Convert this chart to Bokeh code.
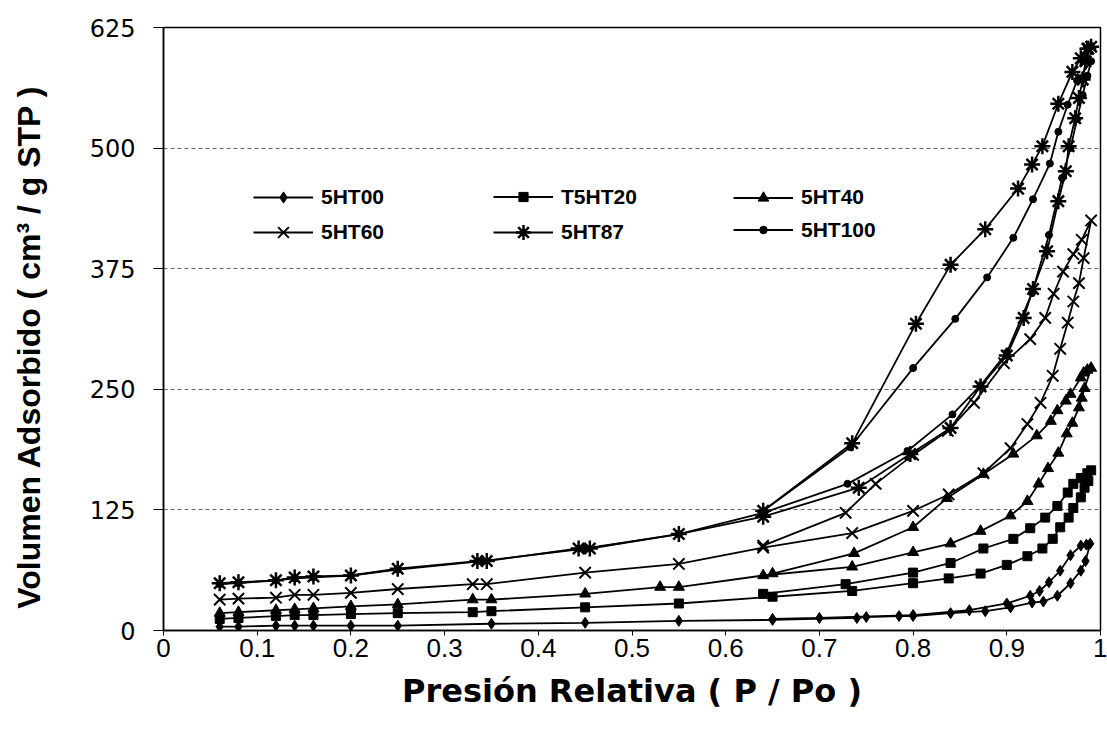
from bokeh.plotting import figure
from bokeh.models import Legend, LegendItem, Range1d, FixedTicker, NumeralTickFormatter
from bokeh.embed import file_html
from bokeh.resources import INLINE

x_ticks = [0, 0.1, 0.2, 0.3, 0.4, 0.5, 0.6, 0.7, 0.8, 0.9, 1.0]
y_ticks = [0, 125, 250, 375, 500, 625]

# 5HT00 (adsorption then desorption)
s00_x = [0.06, 0.08, 0.12, 0.14, 0.16, 0.20, 0.25, 0.35, 0.45, 0.55, 0.65, 0.74, 0.75, 0.785, 0.80,
         0.84, 0.877, 0.904, 0.927, 0.939, 0.954, 0.968, 0.979, 0.984, 0.989,
         0.985, 0.979, 0.968, 0.957, 0.945, 0.935, 0.925, 0.90, 0.86, 0.80, 0.70, 0.65]
s00_y = [4, 4, 5, 5, 5, 5, 5, 7, 8, 10, 11, 13, 14, 15, 15,
         18, 20, 24, 29, 30, 36, 49, 62, 72, 90,
         89, 88, 78, 62, 50, 41, 36, 28, 21, 16, 13, 12]

# T5HT20
s20_x = [0.06, 0.08, 0.12, 0.14, 0.16, 0.20, 0.25, 0.33, 0.35, 0.45, 0.55, 0.65, 0.735, 0.80, 0.838,
         0.872, 0.90, 0.922, 0.938, 0.949, 0.957, 0.966, 0.971, 0.979, 0.983, 0.987, 0.99,
         0.986, 0.979, 0.971, 0.965, 0.954, 0.941, 0.925, 0.907, 0.875, 0.84, 0.80, 0.728, 0.64]
s20_y = [12, 13, 15, 16, 16, 17, 18, 19, 20, 24, 28, 35, 41, 49, 54,
         59, 68, 77, 85, 95, 107, 117, 127, 138, 148, 155, 166,
         163, 158, 152, 143, 129, 117, 106, 95, 85, 70, 60, 48, 38]

# 5HT40
s40_x = [0.06, 0.08, 0.12, 0.14, 0.16, 0.20, 0.25, 0.33, 0.35, 0.45, 0.53, 0.55, 0.64, 0.735, 0.80,
         0.84, 0.872, 0.904, 0.922, 0.934, 0.944, 0.955, 0.964, 0.97, 0.977, 0.98, 0.983, 0.99,
         0.986, 0.982, 0.979, 0.968, 0.963, 0.954, 0.947, 0.932, 0.907, 0.875, 0.836, 0.80, 0.737, 0.65]
s40_y = [18, 19, 21, 22, 23, 25, 27, 32, 32, 38, 45, 45, 57, 66, 81,
         90, 103, 119, 134, 152, 168, 184, 204, 215, 231, 241, 251, 272,
         270, 267, 262, 245, 238, 228, 217, 202, 183, 162, 137, 107, 80, 59]

# 5HT60
s60_x = [0.06, 0.08, 0.12, 0.14, 0.16, 0.20, 0.25, 0.33, 0.345, 0.45, 0.55, 0.64, 0.735, 0.80, 0.838,
         0.875, 0.904, 0.922, 0.936, 0.949, 0.957, 0.965, 0.971, 0.977, 0.982, 0.99,
         0.98, 0.971, 0.96, 0.95, 0.941, 0.925, 0.897, 0.865, 0.837, 0.80, 0.76, 0.728, 0.64]
s60_y = [32, 33, 34, 37, 37, 39, 43, 48, 48, 60, 69, 86, 101, 124, 141,
         163, 189, 214, 236, 264, 292, 319, 341, 360, 386, 425,
         405, 390, 372, 349, 324, 302, 277, 236, 207, 182, 152, 122, 88]

# 5HT87
s87_x = [0.06, 0.08, 0.12, 0.14, 0.16, 0.20, 0.25, 0.335, 0.345, 0.443, 0.455, 0.55, 0.64, 0.742, 0.797,
         0.84, 0.872, 0.90, 0.918, 0.928, 0.943, 0.955, 0.963, 0.966, 0.973, 0.977, 0.981, 0.984, 0.987, 0.99,
         0.986, 0.979, 0.97, 0.955, 0.938, 0.927, 0.912, 0.877, 0.84, 0.803, 0.735, 0.64]
s87_y = [49, 50, 52, 55, 56, 57, 64, 72, 72, 85, 85, 100, 118, 148, 183,
         210, 253, 285, 324, 354, 393, 445, 476, 502, 531, 552, 571, 590, 603, 605,
         603, 593, 579, 546, 502, 483, 458, 416, 379, 318, 194, 124]

# 5HT100
s100_x = [0.06, 0.08, 0.12, 0.14, 0.16, 0.20, 0.25, 0.34, 0.45, 0.55, 0.64, 0.73, 0.794, 0.842,
          0.872, 0.90, 0.927, 0.945, 0.959, 0.968, 0.975, 0.981, 0.986, 0.99,
          0.975, 0.965, 0.955, 0.946, 0.928, 0.907, 0.879, 0.845, 0.80, 0.733, 0.64]
s100_y = [48, 49, 52, 54, 55, 57, 63, 72, 85, 100, 122, 152, 186, 224,
          254, 288, 350, 410, 469, 500, 530, 555, 575, 590,
          570, 545, 517, 484, 447, 407, 366, 323, 272, 190, 124]

labels = ["5HT00", "T5HT20", "5HT40", "5HT60", "5HT87", "5HT100"]
xs = [s00_x, s20_x, s40_x, s60_x, s87_x, s100_x]
ys = [s00_y, s20_y, s40_y, s60_y, s87_y, s100_y]
markers = ["diamond", "square", "triangle", "x", "asterisk", "circle"]
sizes = [11, 9, 11, 16, 16, 7]
mlw = [1, 1, 1, 2, 2.5, 1]

p = figure(width=1107, height=747, x_range=Range1d(0, 1), y_range=Range1d(0, 625),
           output_backend="svg", toolbar_location=None,
           min_border_left=163, min_border_right=7, min_border_top=27, min_border_bottom=117)

p.background_fill_color = "white"
p.border_fill_color = "white"
p.outline_line_color = "black"
p.outline_line_width = 1.5

p.xgrid.visible = False
p.ygrid.ticker = FixedTicker(ticks=y_ticks[1:-1])
p.ygrid.grid_line_color = "#666666"
p.ygrid.grid_line_dash = "4 3"
p.ygrid.grid_line_width = 1

p.xaxis.ticker = FixedTicker(ticks=x_ticks)
p.xaxis.formatter = NumeralTickFormatter(format="0.[0]")
p.xaxis.major_label_text_font = "Liberation Sans"
p.xaxis.major_label_text_font_size = "26px"
p.xaxis.major_label_text_color = "black"
p.xaxis.major_tick_out = 5
p.xaxis.major_tick_in = 0
p.xaxis.minor_tick_out = 0
p.xaxis.minor_tick_in = 0
p.xaxis.major_label_standoff = 3
p.xaxis.axis_line_color = "black"
p.xaxis.axis_line_width = 1.5
p.xaxis.axis_label = "Presión Relativa ( P / Po )"
p.xaxis.axis_label_text_font = "DejaVu Sans"
p.xaxis.axis_label_text_font_style = "bold"
p.xaxis.axis_label_text_font_size = "32px"
p.xaxis.axis_label_text_color = "black"
p.xaxis.axis_label_standoff = 12

p.yaxis.ticker = FixedTicker(ticks=y_ticks)
p.yaxis.major_label_text_font = "DejaVu Sans"
p.yaxis.major_label_text_font_size = "24px"
p.yaxis.major_label_text_color = "black"
p.yaxis.major_tick_out = 10
p.yaxis.major_tick_in = 0
p.yaxis.minor_tick_out = 0
p.yaxis.minor_tick_in = 0
p.yaxis.major_label_standoff = 18
p.yaxis.axis_line_color = "black"
p.yaxis.axis_line_width = 1.5
# trailing spaces compensate the rotated bold label's centring
p.yaxis.axis_label = "Volumen Adsorbido ( cm³ / g STP )    "
p.yaxis.axis_label_text_font = "Liberation Sans"
p.yaxis.axis_label_text_font_style = "bold"
p.yaxis.axis_label_text_font_size = "32px"
p.yaxis.axis_label_text_color = "black"
p.yaxis.axis_label_standoff = 40

renderers = []
for lab, x, y, m, s, lw in zip(labels, xs, ys, markers, sizes, mlw):
    ln = p.line(x, y, line_color="black", line_width=1.8)
    sc = p.scatter(x, y, marker=m, size=s, line_color="black", fill_color="black", line_width=lw)
    renderers.append((lab, ln, sc))

# legend: one small legend per entry so each glyph gets its own size
leg_col_x = [90, 330, 570]        # screen offsets from frame left
leg_row_y = [433, 398]            # screen offsets (glyph centre) from frame bottom
glyph_h = [28, 23, 27, 38, 38, 19]
for i, (lab, ln, sc) in enumerate(renderers):
    gh = glyph_h[i]
    col, row = i % 3, i // 3
    lg = Legend(items=[LegendItem(label=lab, renderers=[ln, sc])],
                location=(leg_col_x[col], leg_row_y[row] - gh / 2),
                glyph_width=60, glyph_height=gh, label_height=gh,
                label_standoff=8, spacing=0, padding=0, margin=0,
                border_line_color=None, background_fill_alpha=0,
                label_text_font="Liberation Sans", label_text_font_style="bold",
                label_text_font_size="21px", label_text_color="black")
    p.add_layout(lg)

open("out.html", "w").write(file_html(p, INLINE))
